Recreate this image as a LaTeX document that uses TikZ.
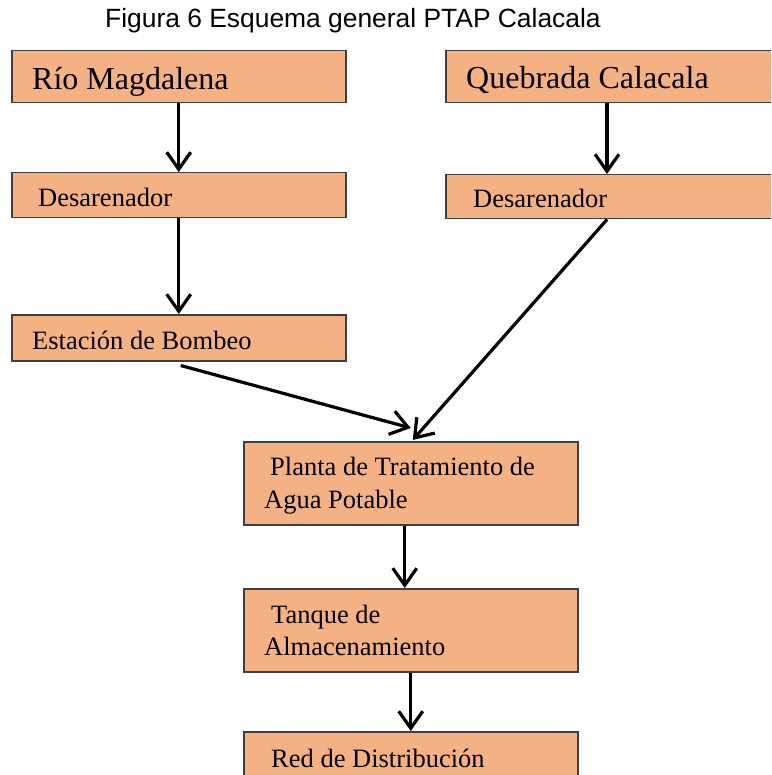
\documentclass[tikz,border=0pt]{standalone}
\usepackage{fontspec}
\setmainfont{Liberation Serif}
\newfontfamily\titlefont{Liberation Sans}
\usetikzlibrary{arrows.meta}
\definecolor{boxfill}{HTML}{F4B183}
\definecolor{boxline}{HTML}{3F3F3F}
\tikzset{
  box/.style={draw=boxline, fill=boxfill, line width=1.5pt, rectangle, inner sep=0pt, anchor=north west},
  big/.style={anchor=base west, inner sep=0pt, font=\fontsize{32}{36}\selectfont},
  txt/.style={anchor=base west, inner sep=0pt, font=\fontsize{26.5}{30}\selectfont},
  arr/.style={line width=3.2pt, -{Straight Barb[length=17pt,width=24pt,line width=3.2pt]}}
}
\begin{document}
\begin{tikzpicture}[x=1pt,y=-1pt]
\useasboundingbox (0,0) rectangle (771,775);
\clip (0,0) rectangle (771,775);
\fill[white] (0,0) rectangle (771,775);
% title
\node[anchor=base west, inner sep=0pt, font=\titlefont\fontsize{26.4}{30}\selectfont] (title) at (105,28) {Figura 6 Esquema general PTAP Calacala};
% boxes
\node[box, minimum width=334pt, minimum height=52pt] (rio) at (11,50) {};
\node[box, minimum width=345pt, minimum height=52pt] (queb) at (445,50) {};
\node[box, minimum width=334pt, minimum height=45pt] (des1) at (11,172) {};
\node[box, minimum width=345pt, minimum height=44pt] (des2) at (445,174) {};
\node[box, minimum width=334pt, minimum height=46pt] (est) at (11,314) {};
\node[box, minimum width=334pt, minimum height=83pt] (planta) at (243,441) {};
\node[box, minimum width=334pt, minimum height=83pt] (tanque) at (243,588) {};
\node[box, minimum width=334pt, minimum height=70pt] (red) at (243,731) {};
% texts
\node[big] (rioT) at (32,90) {Río Magdalena};
\node[big] (quebT) at (466,89) {Quebrada Calacala};
\node[txt] (des1T) at (38,207) {Desarenador};
\node[txt] (des2T) at (473,208) {Desarenador};
\node[txt] (estT) at (32,349) {Estación de Bombeo};
\node[txt] (plantaT1) at (270,475) {Planta de Tratamiento de};
\node[txt] (plantaT2) at (264,508) {Agua Potable};
\node[txt] (tanqueT1) at (271,623) {Tanque de};
\node[txt] (tanqueT2) at (264,655) {Almacenamiento};
\node[txt] (redT) at (271,767) {Red de Distribución};
% arrows
\draw[arr] (rio.south) -- (des1.north);
\draw[arr] (des1.south) -- (est.north);
\draw[arr] ([xshift=162pt]queb.south west) -- ([xshift=162pt]des2.north west);
\draw[arr] ([shift={(2,4)}]est.south) -- ([shift={(0,-13)}]planta.north);
\draw[arr] ([xshift=162pt]des2.south west) -- ([shift={(2,-1)}]planta.north);
\draw[arr] ([xshift=-6pt]planta.south) -- ([xshift=-6pt]tanque.north);
\draw[arr] (tanque.south) -- (red.north);
\end{tikzpicture}
\end{document}
